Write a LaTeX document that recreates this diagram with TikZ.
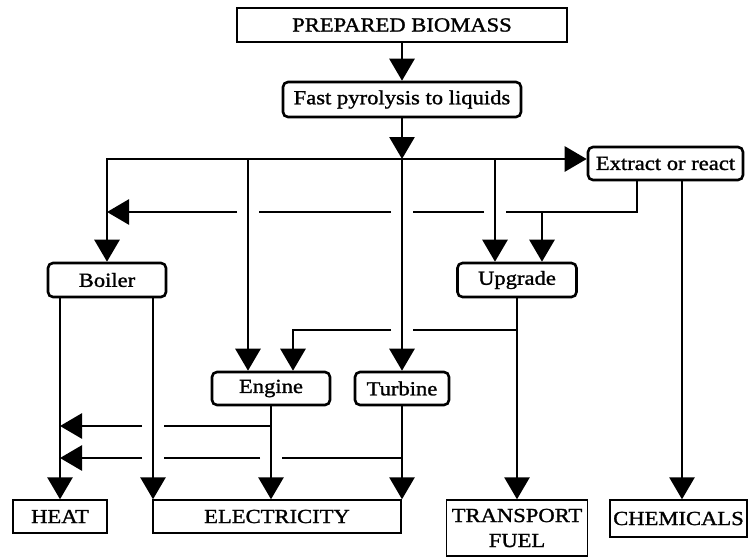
\documentclass[tikz,border=0pt]{standalone}
\usepackage{fontspec}
\setmainfont{Liberation Serif}[FakeStretch=1.13,FakeBold=1.3]
\usetikzlibrary{arrows.meta,calc}
\begin{document}
\begin{tikzpicture}[x=1pt,y=-1pt,
      >={Triangle[length=22pt,width=25pt]},
      every node/.style={font=\fontsize{20}{25}\selectfont, inner sep=0pt},
      proc/.style={draw, rounded corners=5pt, line width=2.6pt, minimum height=34pt},
      outbox/.style={draw, line width=1.4pt, minimum height=34pt, align=center},
      flow/.style={line width=2.8pt}]
  \useasboundingbox (0,0) rectangle (748,558);

  \node[outbox, minimum width=330pt] (bio) at (402,25) {PREPARED BIOMASS};
  \node[proc, minimum width=238pt, minimum height=35pt] (pyro) at (402,99.5) {Fast pyrolysis to liquids};
  \node[proc, minimum width=155pt, minimum height=33pt] (extr) at (665.5,163.5) {Extract or react};
  \node[proc, minimum width=118pt] (boil) at (107,280) {Boiler};
  \node[proc, minimum width=119pt] (upg) at (517,280) {Upgrade};
  \node[proc, minimum width=118pt, minimum height=33pt] (eng) at (271,388.5) {Engine};
  \node[proc, minimum width=94pt, minimum height=33pt] (turb) at (402,388.5) {Turbine};
  \node[outbox, minimum width=94pt, minimum height=33pt] (heat) at (60,516.5) {HEAT};
  \node[outbox, minimum width=248pt, minimum height=33pt] (elec) at (277,516.5) {ELECTRICITY};
  \node[outbox, minimum width=141pt, minimum height=56pt] (fuel) at (517,528) {TRANSPORT\\FUEL};
  \node[outbox, minimum width=137pt, minimum height=37pt] (chem) at (678.5,518.5) {CHEMICALS};

  \coordinate (jmain) at (402,159);
  \coordinate (jleft) at (107,159);
  \coordinate (jeng) at (248,159);
  \coordinate (jupg) at (495,159);
  \coordinate (xa) at (637,0 |- extr.south);
  \coordinate (xb) at (637,212);
  \coordinate (xc) at (542,212);
  \coordinate (xd) at (682,0 |- extr.south);
  \coordinate (ub) at (upg.south |- 0,330);
  \coordinate (ec) at (293,330);
  \coordinate (bh) at (60,0 |- boil.south);
  \coordinate (be) at (153,0 |- boil.south);
  \coordinate (eh) at (eng.south |- 0,426);
  \coordinate (th) at (turb.south |- 0,458);

  \draw[flow,->] (bio.south) -- (pyro.north);
  \draw[flow,->] (pyro.south) -- (jmain);
  \draw[flow,->] (jmain) -- (turb.north);
  \draw[flow,<->] (boil.north) -- (jleft) -- (jleft -| extr.west);
  \draw[flow,->] (jeng) -- (jeng |- eng.north);
  \draw[flow,->] (jupg) -- (jupg |- upg.north);

  \draw[flow,->] (xa) -- (xb) -- (xc) -- (xc |- upg.north);
  \draw[flow] (xc) -- ($(jupg |- xc)+(11,0)$);
  \draw[flow] ($(jupg |- xc)-(11,0)$) -- ($(jmain |- xc)+(11,0)$);
  \draw[flow] ($(jmain |- xc)-(11,0)$) -- ($(jeng |- xc)+(11,0)$);
  \draw[flow,->] ($(jeng |- xc)-(11,0)$) -- (jleft |- xc);
  \draw[flow,->] (xd) -- (xd |- chem.north);

  \draw[flow,->] (upg.south) -- (fuel.north);
  \draw[flow] (ub) -- ($(jmain |- ub)+(11,0)$);
  \draw[flow,->] ($(jmain |- ub)-(11,0)$) -- (ec) -- (ec |- eng.north);

  \draw[flow,->] (bh) -- (heat.north);
  \draw[flow,->] (be) -- (be |- elec.north);
  \draw[flow,->] (eng.south) -- (eng.south |- elec.north);
  \draw[flow,->] (turb.south) -- (turb.south |- elec.north);
  \draw[flow] (eh) -- ($(be |- eh)+(11,0)$);
  \draw[flow,->] ($(be |- eh)-(11,0)$) -- (bh |- eh);
  \draw[flow] (th) -- ($(eh |- th)+(11,0)$);
  \draw[flow] ($(eh |- th)-(11,0)$) -- ($(be |- th)+(11,0)$);
  \draw[flow,->] ($(be |- th)-(11,0)$) -- (bh |- th);
\end{tikzpicture}
\end{document}
